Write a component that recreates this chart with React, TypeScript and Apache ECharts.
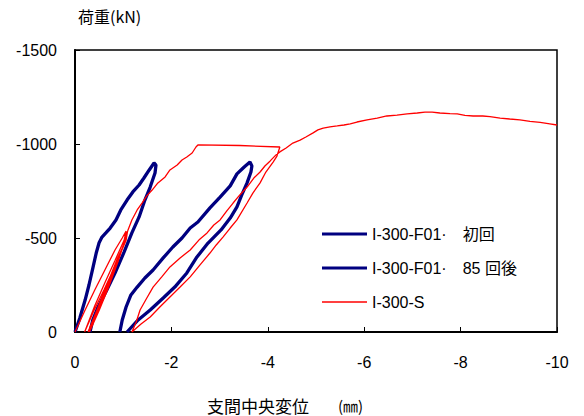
import React, { useEffect, useRef } from "react";
import * as echarts from "echarts";

const xTicks = [0, -2, -4, -6, -8, -10];
const yTicks = [0, -500, -1000, -1500];

const seriesNames = ["I-300-F01·　初回", "I-300-F01·　85 回後", "I-300-S"];

// [displacement (mm), load (kN)]
const f01First: [number, number][] = [
  [0, 0], [-0.1, -74], [-0.21, -170], [-0.29, -250], [-0.37, -340], [-0.44, -420],
  [-0.5, -475], [-0.56, -505], [-0.64, -527], [-0.73, -553], [-0.85, -596], [-0.95, -649],
  [-1.08, -702], [-1.2, -745], [-1.33, -782], [-1.43, -819], [-1.54, -862],
  [-1.64, -899], [-1.68, -888], [-1.66, -846], [-1.56, -771], [-1.45, -702],
  [-1.33, -612], [-1.18, -527], [-1.02, -426], [-0.83, -314], [-0.66, -223],
  [-0.48, -133], [-0.37, -64], [-0.31, 0],
];

const f01After85: [number, number][] = [
  [-0.93, 0], [-0.98, -64], [-1.06, -133], [-1.16, -197], [-1.29, -239],
  [-1.45, -287], [-1.62, -330], [-1.83, -394], [-2.03, -452], [-2.22, -500],
  [-2.39, -553], [-2.55, -585], [-2.8, -660], [-3.01, -718], [-3.22, -777],
  [-3.36, -841], [-3.51, -878], [-3.63, -904], [-3.67, -883], [-3.65, -851],
  [-3.57, -793], [-3.46, -729], [-3.36, -665], [-3.22, -606], [-3.03, -543],
  [-2.76, -473], [-2.53, -399], [-2.32, -314], [-2.07, -239], [-1.83, -181],
  [-1.56, -117], [-1.31, -64], [-1.08, 0],
];

const s300: [number, number][] = [
  [0, 0], [-0.21, -117], [-0.41, -223], [-0.62, -330], [-0.83, -436], [-0.98, -500],
  [-1.06, -537], [-1.02, -489], [-0.83, -380], [-0.62, -262], [-0.41, -140],
  [-0.2, 0], [-0.38, -106], [-0.6, -223], [-0.82, -345], [-0.98, -440],
  [-1.08, -532], [-1.04, -479], [-0.87, -385], [-0.66, -250], [-0.46, -120],
  [-0.27, 0], [-0.46, -110], [-0.66, -230], [-0.86, -360], [-1.0, -460],
  [-1.09, -535], [-1.06, -488], [-0.9, -392], [-0.7, -262], [-0.5, -130],
  [-0.3, 0], [-0.5, -115], [-0.7, -240], [-0.89, -372], [-1.04, -489],
  [-1.1, -543], [-1.18, -596], [-1.29, -649], [-1.39, -686], [-1.49, -724],
  [-1.6, -755], [-1.72, -793], [-1.87, -825], [-1.97, -862], [-2.12, -888],
  [-2.22, -915], [-2.32, -931], [-2.43, -952], [-2.51, -984], [-2.55, -995],
  [-3.42, -992], [-4.25, -984], [-4.19, -936], [-4.11, -904], [-3.96, -851],
  [-3.84, -793], [-3.69, -739], [-3.57, -686], [-3.36, -596], [-3.22, -553],
  [-3.07, -505], [-2.93, -463], [-2.8, -420], [-2.59, -356], [-2.39, -293],
  [-2.18, -239], [-1.97, -186], [-1.76, -133], [-1.56, -80], [-1.37, -43],
  [-1.18, 0], [-1.27, -53], [-1.35, -117], [-1.49, -181], [-1.62, -239],
  [-1.8, -293], [-1.97, -346], [-2.18, -394], [-2.39, -436], [-2.57, -489],
  [-2.74, -527], [-2.88, -569], [-3.01, -596], [-3.15, -644], [-3.28, -686],
  [-3.42, -729], [-3.57, -771], [-3.71, -819], [-3.84, -851], [-3.94, -883],
  [-4.05, -910], [-4.17, -942], [-4.25, -958], [-4.38, -979], [-4.52, -1005],
  [-4.67, -1021], [-4.79, -1037], [-4.94, -1059], [-5.04, -1075], [-5.15, -1085],
  [-5.29, -1091], [-5.44, -1096], [-5.58, -1101], [-5.71, -1107], [-5.85, -1117],
  [-6.06, -1128], [-6.27, -1138], [-6.47, -1149], [-6.68, -1154], [-6.89, -1160],
  [-7.1, -1165], [-7.26, -1170], [-7.41, -1170], [-7.57, -1165], [-7.78, -1162],
  [-7.93, -1160], [-8.09, -1152], [-8.26, -1149], [-8.46, -1149], [-8.61, -1146],
  [-8.82, -1138], [-9.02, -1133], [-9.23, -1128], [-9.44, -1120], [-9.65, -1115],
  [-9.85, -1107], [-10.0, -1101],
];

const yAxisTitle = "荷重(kN)";
const xAxisTitle = "支間中央変位";
const xAxisUnit = "(㎜)";

const FONT = "'Liberation Sans', Arial, 'Noto Sans CJK JP', sans-serif";
const CJK = "'Noto Sans CJK JP', 'Liberation Sans', sans-serif";

const THICK_ICON = "path://M0,6 L43,6 L43,9 L0,9 Z";
const THIN_ICON = "path://M0,6.9 L43,6.9 L43,8.1 L0,8.1 Z";

export default function App() {
  const ref = useRef<HTMLDivElement>(null);
  useEffect(() => {
    if (!ref.current) return;
    const chart = echarts.init(ref.current, undefined, { renderer: "svg" });
    chart.setOption({
      animation: false,
      backgroundColor: "#fff",
      grid: {
        left: 75,
        right: 27,
        top: 50,
        bottom: 84,
        show: true,
        borderColor: "#000",
        borderWidth: 1.5,
        backgroundColor: "transparent",
      },
      legend: {
        orient: "vertical",
        left: 317,
        top: 221,
        itemWidth: 45,
        itemHeight: 14,
        itemGap: 18,
        textStyle: { fontFamily: FONT, fontSize: 16, color: "#000" },
        data: [
          { name: seriesNames[0], icon: THICK_ICON },
          { name: seriesNames[1], icon: THICK_ICON },
          { name: seriesNames[2], icon: THIN_ICON },
        ],
      },
      xAxis: {
        type: "value",
        min: -10,
        max: 0,
        interval: 2,
        inverse: true,
        axisLine: { show: true, onZero: false, lineStyle: { color: "#000", width: 2 } },
        axisTick: { show: true, inside: true, length: 5, lineStyle: { color: "#000", width: 1 } },
        axisLabel: {
          margin: 22,
          fontFamily: FONT,
          fontSize: 16,
          color: "#000",
          formatter: (v: number) => (xTicks.includes(v) ? String(v) : ""),
        },
        splitLine: { show: false },
      },
      yAxis: {
        type: "value",
        min: -1500,
        max: 0,
        interval: 500,
        inverse: true,
        axisLine: { show: true, onZero: false, lineStyle: { color: "#000", width: 2 } },
        axisTick: { show: true, inside: true, length: 5, lineStyle: { color: "#000", width: 1 } },
        axisLabel: {
          margin: 18,
          fontFamily: FONT,
          fontSize: 16,
          color: "#000",
          formatter: (v: number) => (yTicks.includes(v) ? String(v) : ""),
        },
        splitLine: { show: false },
      },
      series: [
        {
          name: seriesNames[0],
          type: "line",
          data: f01First,
          showSymbol: false,
          symbol: "none",
          lineStyle: { color: "#000080", width: 3.3 },
          itemStyle: { color: "#000080" },
          z: 2,
        },
        {
          name: seriesNames[1],
          type: "line",
          data: f01After85,
          showSymbol: false,
          symbol: "none",
          lineStyle: { color: "#000080", width: 3.3 },
          itemStyle: { color: "#000080" },
          z: 2,
        },
        {
          name: seriesNames[2],
          type: "line",
          data: s300,
          showSymbol: false,
          symbol: "none",
          lineStyle: { color: "#ff0000", width: 1.3 },
          itemStyle: { color: "#ff0000" },
          z: 3,
        },
      ],
      graphic: [
        {
          type: "text",
          left: 78,
          top: 8,
          style: { text: yAxisTitle, fontFamily: CJK, fontSize: 16, fill: "#000" },
        },
        {
          type: "text",
          left: 207,
          top: 396,
          style: { text: xAxisTitle, fontFamily: CJK, fontSize: 17, lineHeight: 18, fill: "#000" },
        },
        {
          type: "text",
          left: 338,
          top: 397,
          style: { text: xAxisUnit, fontFamily: CJK, fontSize: 15, lineHeight: 17, fill: "#000" },
        },
      ],
    });
    return () => chart.dispose();
  }, []);
  return <div ref={ref} style={{ width: 584, height: 416, position: "absolute", left: 0, top: 0 }} />;
}
